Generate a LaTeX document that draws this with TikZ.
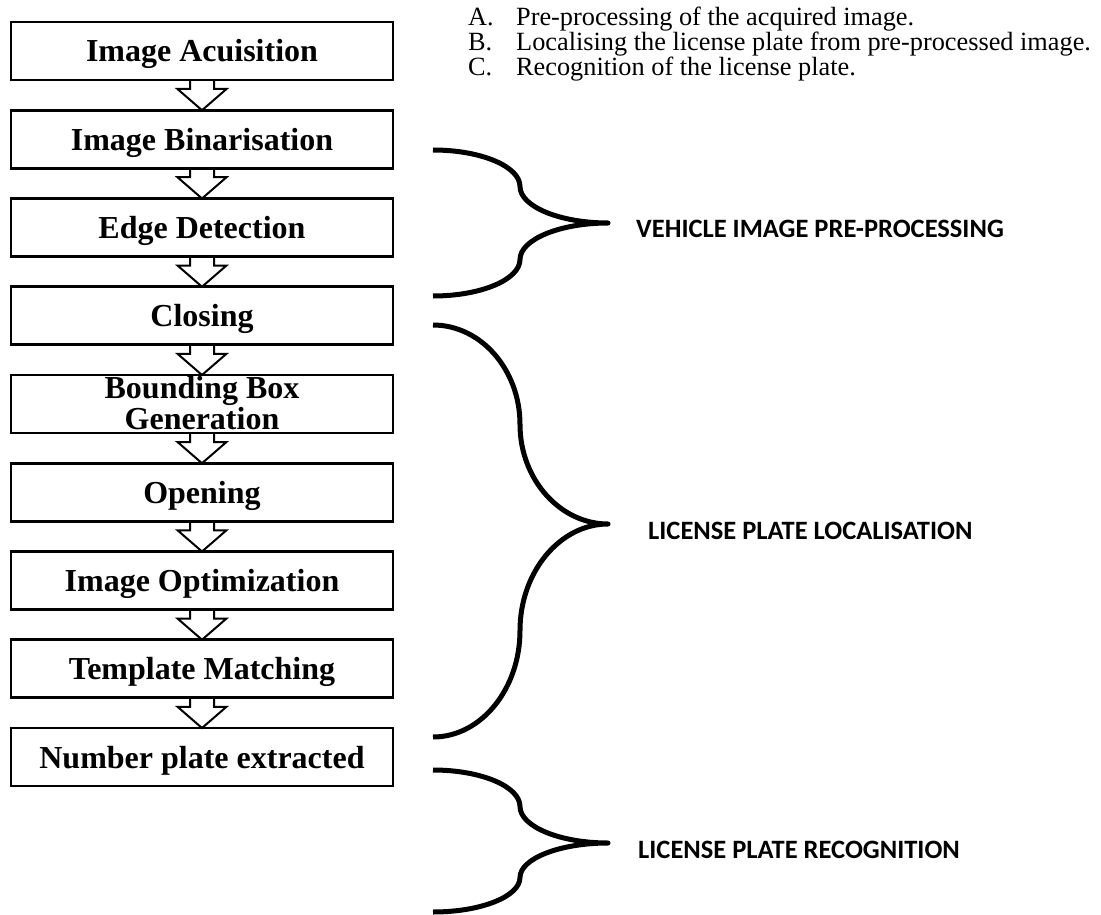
\documentclass[tikz,border=0pt]{standalone}
\usepackage{fontspec}
\setmainfont{Liberation Serif}
\newfontfamily\labelfont{Carlito}
\usetikzlibrary{calc}

\tikzset{
  stage/.style={draw, line width=2.6pt, inner sep=0pt, outer sep=0pt,
    minimum width=382pt, minimum height=58pt, text width=382pt, align=flush center,
    text height=22pt, text depth=0pt, font=\fontsize{32}{31}\selectfont\bfseries},
  flowarrow/.style={draw, line width=2pt, line join=miter},
  bracket/.style={line width=5pt, line join=round},
  part/.style={anchor=west, inner sep=0pt, font=\labelfont\bfseries\fontsize{26.5}{28}\selectfont},
  itemlist/.style={anchor=base west, inner sep=0pt, text width=630pt, align=flush left,
    font=\fontsize{26.3}{23}\selectfont}
}

% curly bracket: top y, tip y, bottom y
\newcommand{\platebrace}[3]{%
  \draw[bracket] (433,#1) .. controls (481,#1) and (520,{#1+0.225*(#2-#1)}) .. (520,{0.5*(#1+#2)})
    .. controls (520,{0.5*(#1+#2)+0.275*(#2-#1)}) and (560,#2) .. (608,#2)
    .. controls (560,#2) and (520,{#2+0.225*(#3-#2)}) .. (520,{0.5*(#2+#3)})
    .. controls (520,{0.5*(#2+#3)+0.275*(#3-#2)}) and (481,#3) .. (433,#3);}

\begin{document}
\begin{tikzpicture}[x=1pt, y=-1pt]
\useasboundingbox (0,0) rectangle (1101,915);

% stages
\node[stage] (acq) at (202,51) {Image Acuisition};
\node[stage] (bin) at (202,139.25) {Image Binarisation};
\node[stage] (edge) at (202,227.5) {Edge Detection};
\node[stage] (clos) at (202,315.75) {Closing};
\node[stage, text depth=34pt] (bbox) at (202,404) {Bounding Box\\Generation};
\node[stage] (open) at (202,492.25) {Opening};
\node[stage] (opt) at (202,580.5) {Image Optimization};
\node[stage] (tmpl) at (202,668.75) {Template Matching};
\node[stage] (plate) at (202,757) {Number plate extracted};

\foreach \a/\b in {acq/bin, bin/edge, edge/clos, clos/bbox, bbox/open, open/opt, opt/tmpl, tmpl/plate}
  \draw[flowarrow] ($(\a.south)+(-12,0)$) -- ++(0,9) -- ++(-12.5,0) -- (\b.north)
    -- ($(\a.south)+(24.5,9)$) -- ++(-12.5,0) -- ++(0,-9);

% phases
\platebrace{150}{223}{296}
\platebrace{325}{524}{737}
\platebrace{770}{843}{912}

\node[part] (pre) at (636,229) {VEHICLE IMAGE PRE-PROCESSING};
\node[part] (loc) at (648,531) {LICENSE PLATE LOCALISATION};
\node[part] (rec) at (638,850) {LICENSE PLATE RECOGNITION};

\node[itemlist] (steps) at (468,25.5) {\makebox[48pt][l]{A.}Pre-processing of the acquired image.\\
  \makebox[48pt][l]{B.}Localising the license plate from pre-processed image.\\
  \makebox[48pt][l]{C.}Recognition of the license plate.};
\end{tikzpicture}
\end{document}
